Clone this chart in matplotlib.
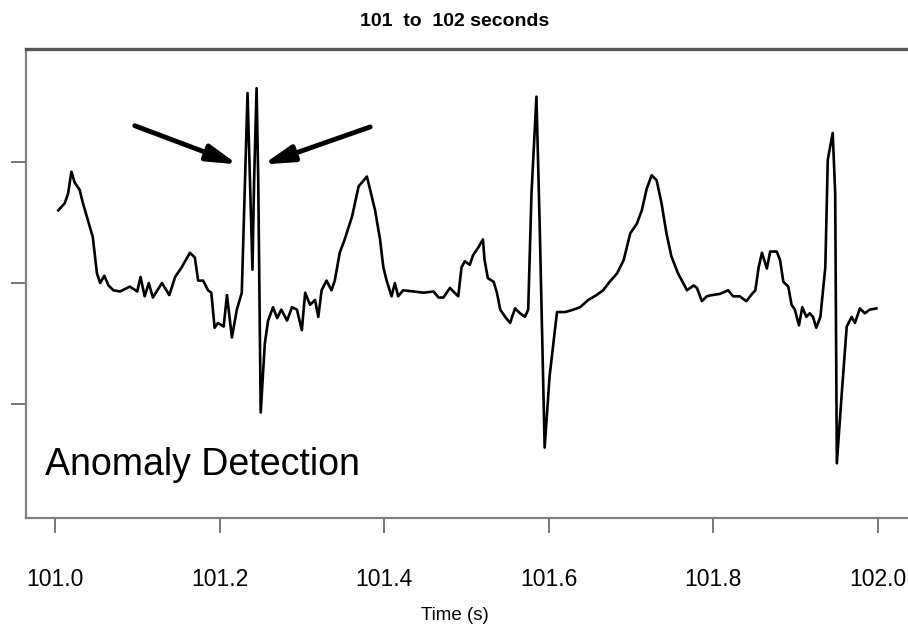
import matplotlib
matplotlib.use("Agg")
import matplotlib.pyplot as plt

# ECG trace, 101 to 102 s (amplitude in arbitrary units, ticks at -1, 0, 1)
time_s = [
    101.004, 101.012, 101.016, 101.020, 101.024, 101.030, 101.034, 101.040, 101.046, 101.051,
    101.055, 101.060, 101.065, 101.071, 101.079, 101.091, 101.100, 101.104, 101.109, 101.114,
    101.119, 101.130, 101.139, 101.146, 101.154, 101.164, 101.170, 101.174, 101.180, 101.186,
    101.190, 101.194, 101.198, 101.205, 101.209, 101.215, 101.221, 101.227, 101.231, 101.234,
    101.237, 101.240, 101.242, 101.245, 101.247, 101.250, 101.255, 101.259, 101.265, 101.270,
    101.275, 101.282, 101.288, 101.294, 101.300, 101.304, 101.310, 101.316, 101.320, 101.324,
    101.330, 101.336, 101.340, 101.346, 101.352, 101.361, 101.369, 101.373, 101.379, 101.383,
    101.389, 101.395, 101.399, 101.403, 101.409, 101.413, 101.417, 101.423, 101.435, 101.448,
    101.460, 101.466, 101.472, 101.476, 101.480, 101.484, 101.490, 101.494, 101.498, 101.504,
    101.508, 101.514, 101.520, 101.522, 101.526, 101.533, 101.537, 101.541, 101.547, 101.553,
    101.559, 101.565, 101.571, 101.575, 101.579, 101.585, 101.589, 101.595, 101.601, 101.610,
    101.620, 101.630, 101.638, 101.648, 101.658, 101.666, 101.674, 101.683, 101.691, 101.699,
    101.707, 101.713, 101.719, 101.725, 101.731, 101.737, 101.743, 101.749, 101.757, 101.768,
    101.776, 101.780, 101.786, 101.792, 101.798, 101.808, 101.818, 101.824, 101.832, 101.840,
    101.847, 101.851, 101.855, 101.859, 101.865, 101.869, 101.877, 101.881, 101.885, 101.891,
    101.895, 101.899, 101.904, 101.908, 101.913, 101.917, 101.921, 101.925, 101.930, 101.936,
    101.939, 101.945, 101.948, 101.950, 101.956, 101.962, 101.968, 101.972, 101.978, 101.984,
    101.990, 101.998,
]
signal = [
    0.60, 0.66, 0.74, 0.92, 0.83, 0.77, 0.66, 0.52, 0.38, 0.08,
    0.00, 0.06, -0.02, -0.06, -0.07, -0.03, -0.07, 0.05, -0.11, 0.00,
    -0.12, 0.00, -0.10, 0.05, 0.13, 0.25, 0.21, 0.02, 0.02, -0.06,
    -0.08, -0.37, -0.33, -0.36, -0.10, -0.45, -0.22, -0.08, 0.85, 1.57,
    0.85, 0.11, 0.85, 1.61, 0.85, -1.07, -0.50, -0.31, -0.20, -0.29,
    -0.22, -0.31, -0.20, -0.22, -0.39, -0.08, -0.18, -0.14, -0.28, -0.06,
    0.02, -0.06, 0.02, 0.25, 0.36, 0.55, 0.80, 0.83, 0.88, 0.77,
    0.60, 0.36, 0.13, 0.02, -0.11, 0.00, -0.11, -0.06, -0.07, -0.08,
    -0.07, -0.12, -0.12, -0.08, -0.04, -0.07, -0.11, 0.13, 0.18, 0.15,
    0.23, 0.29, 0.36, 0.19, 0.04, 0.01, -0.08, -0.22, -0.28, -0.33,
    -0.21, -0.25, -0.28, -0.22, 0.74, 1.54, 0.47, -1.36, -0.77, -0.24,
    -0.24, -0.22, -0.20, -0.14, -0.10, -0.06, 0.01, 0.08, 0.19, 0.41,
    0.49, 0.60, 0.78, 0.89, 0.85, 0.66, 0.41, 0.22, 0.08, -0.06,
    -0.02, -0.04, -0.15, -0.11, -0.10, -0.09, -0.06, -0.11, -0.11, -0.15,
    -0.09, -0.06, 0.13, 0.25, 0.12, 0.26, 0.26, 0.19, 0.01, -0.03,
    -0.18, -0.22, -0.35, -0.20, -0.28, -0.25, -0.28, -0.37, -0.28, 0.13,
    1.02, 1.24, 0.74, -1.49, -0.91, -0.36, -0.28, -0.33, -0.21, -0.25,
    -0.22, -0.21,
]

x_ticks = [101.0, 101.2, 101.4, 101.6, 101.8, 102.0]
x_tick_labels = ["101.0", "101.2", "101.4", "101.6", "101.8", "102.0"]
y_ticks = [-1, 0, 1]

# arrows pointing at the double spike: (tail, head)
arrows = [((101.097, 1.30), (101.222, 0.98)),
          ((101.383, 1.29), (101.253, 0.98))]

plt.rcParams['font.family'] = ['Liberation Sans', 'DejaVu Sans']

fig = plt.figure(figsize=(9.08, 6.37), dpi=100)
ax = fig.add_axes([0.0286, 0.1868, 0.9747, 0.7363])

ax.plot(time_s, signal, color='black', lw=1.9, solid_joinstyle='round')

for tail, head in arrows:
    ax.annotate('', xy=head, xytext=tail,
                arrowprops=dict(arrowstyle='-|>,head_length=0.9,head_width=0.25',
                                lw=3.5, color='black',
                                mutation_scale=20, shrinkA=0, shrinkB=0))

ax.text(0.0215, 0.0917, 'Anomaly Detection', transform=ax.transAxes,
        fontsize=27, va='baseline', ha='left', color='black')

ax.set_xlim(100.9648, 102.0401)
ax.set_ylim(-1.942, 1.934)
ax.set_xticks(x_ticks)
ax.set_xticklabels(x_tick_labels)
ax.set_yticks(y_ticks)
ax.set_yticklabels([])

ax.tick_params(axis='both', direction='out', length=11, width=1.4, color='#777777')
ax.tick_params(axis='x', pad=25, labelsize=16.5)
for side in ['left', 'bottom', 'right']:
    ax.spines[side].set_color('#808080')
    ax.spines[side].set_linewidth(1.6)
ax.spines['top'].set_color('#555555')
ax.spines['top'].set_linewidth(2.4)

fig.text(455 / 908, 1 - 22 / 637, '101  to  102 seconds', ha='center', va='center',
         fontsize=14, fontweight='bold')
fig.text(455 / 908, 1 - 615 / 637, 'Time (s)', ha='center', va='center', fontsize=13.5)

fig.savefig('out.png', dpi=100)
